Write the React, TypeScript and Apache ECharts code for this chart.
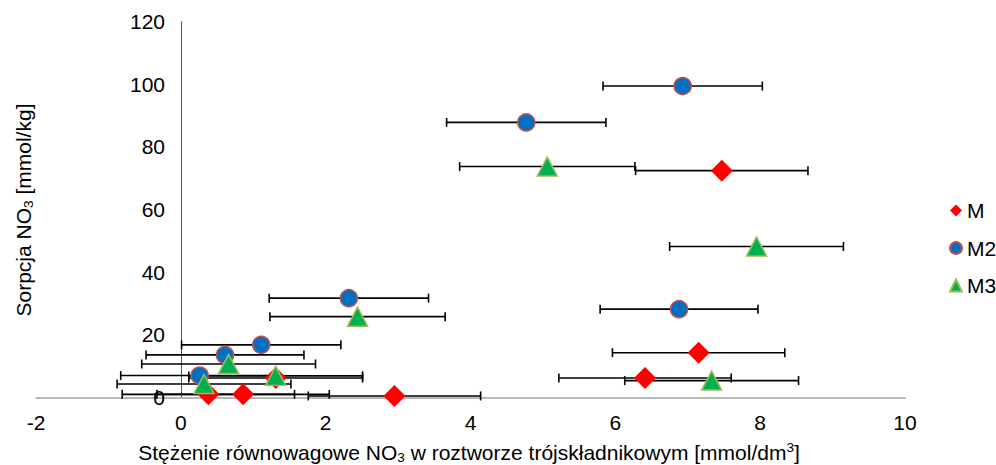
import React, { useEffect, useRef } from "react";
import * as echarts from "echarts";

const FONT = "'Liberation Sans', Arial, sans-serif";

// Series M (red diamonds): x, y, horizontal error
const mX = [7.47, 7.15, 6.41, 1.31, 0.38, 0.86, 2.95];
const mY = [72.4, 14.3, 6.2, 6.2, 1.0, 1.0, 0.5];
const mErr = [1.19, 1.19, 1.19, 1.2, 1.19, 1.19, 1.19];

// Series M2 (blue circles)
const m2X = [6.93, 4.77, 6.88, 2.32, 1.11, 0.61, 0.26];
const m2Y = [99.4, 87.8, 28.2, 31.7, 16.8, 13.6, 7.0];
const m2Err = [1.1, 1.1, 1.09, 1.1, 1.1, 1.09, 1.09];

// Series M3 (green triangles)
const m3X = [7.95, 5.06, 2.44, 0.66, 1.31, 0.32, 7.33];
const m3Y = [48.2, 73.7, 25.8, 10.7, 6.9, 4.3, 5.4];
const m3Err = [1.2, 1.21, 1.21, 1.2, 1.2, 1.2, 1.2];

const seriesNames = ["M", "M2", "M3"];

const xTitle = "Stężenie równowagowe NO{sub|3} w roztworze trójskładnikowym [mmol/dm{sup|3}]";
const yTitle = "Sorpcja NO{sub|3} [mmol/kg]";

function pts(xs: number[], ys: number[]) {
  return xs.map((x, i) => [x, ys[i]]);
}
function errPts(xs: number[], ys: number[], es: number[]) {
  return xs.map((x, i) => [x, ys[i], es[i]]);
}

const FS = 21;

const richTitle = (size: number) => ({
  sub: { fontSize: size * 0.65, fontFamily: FONT, fill: "#000", verticalAlign: "bottom", lineHeight: 13 },
  sup: { fontSize: size * 0.65, fontFamily: FONT, fill: "#000", verticalAlign: "top", lineHeight: 13 },
});

export default function App() {
  const ref = useRef<HTMLDivElement>(null);
  useEffect(() => {
    if (!ref.current) return;
    const chart = echarts.init(ref.current, null, { renderer: "svg" });

    const errRender = (params: any, api: any) => {
      const x = api.value(0);
      const y = api.value(1);
      const e = api.value(2);
      const p1 = api.coord([x - e, y]);
      const p2 = api.coord([x + e, y]);
      const h = 4.5;
      const st = { stroke: "#000", lineWidth: 1.6 };
      return {
        type: "group",
        children: [
          { type: "line", shape: { x1: p1[0], y1: p1[1], x2: p2[0], y2: p2[1] }, style: st },
          { type: "line", shape: { x1: p1[0], y1: p1[1] - h, x2: p1[0], y2: p1[1] + h }, style: st },
          { type: "line", shape: { x1: p2[0], y1: p2[1] - h, x2: p2[0], y2: p2[1] + h }, style: st },
        ],
      };
    };

    const errSeries = (data: number[][]) => ({
      type: "custom",
      renderItem: errRender,
      data,
      encode: { x: 0, y: 1 },
      clip: false,
      z: 1,
      silent: true,
    });

    const gridLeft = 36;
    const yAxisPx = 180;

    chart.setOption({
      animation: false,
      grid: { left: gridLeft, right: 91, top: 21.5, bottom: 67.5, containLabel: false, outerBoundsMode: "none" },
      xAxis: {
        type: "value",
        min: -2,
        max: 10,
        interval: 2,
        axisLine: { show: true, onZero: true, lineStyle: { color: "#A0A0A0", width: 1.5 } },
        axisTick: { show: false },
        splitLine: { show: false },
        axisLabel: { fontSize: FS, color: "#000", fontFamily: FONT, margin: 14 },
      },
      yAxis: {
        type: "value",
        min: 0,
        max: 120,
        interval: 20,
        axisLine: { show: true, onZero: true, lineStyle: { color: "#595959", width: 1 } },
        axisTick: { show: false },
        splitLine: { show: false },
        axisLabel: {
          fontSize: FS,
          color: "#000",
          fontFamily: FONT,
          margin: -(yAxisPx - 15 - gridLeft),
          align: "right",
        },
      },
      legend: {
        orient: "vertical",
        left: 944,
        top: 195,
        itemWidth: 12,
        itemHeight: 12,
        itemGap: 16.5,
        data: seriesNames,
        textStyle: { fontSize: FS, color: "#000", fontFamily: FONT, lineHeight: 21 },
      },
      graphic: [
        {
          type: "text",
          x: 469,
          y: 452,
          style: {
            text: xTitle,
            fontSize: FS,
            fontFamily: FONT,
            fill: "#000",
            align: "center",
            verticalAlign: "middle",
            lineHeight: 24,
            rich: richTitle(FS),
          },
        },
        {
          type: "text",
          x: 23,
          y: 210,
          rotation: Math.PI / 2,
          style: {
            text: yTitle,
            fontSize: FS,
            fontFamily: FONT,
            fill: "#000",
            align: "center",
            verticalAlign: "middle",
            lineHeight: 24,
            rich: richTitle(FS),
          },
        },
      ],
      series: [
        errSeries(errPts(mX, mY, mErr)),
        errSeries(errPts(m2X, m2Y, m2Err)),
        errSeries(errPts(m3X, m3Y, m3Err)),
        {
          name: "M",
          type: "scatter",
          symbol: "diamond",
          symbolSize: 22,
          data: pts(mX, mY),
          itemStyle: { color: "#FF0000", opacity: 1 },
          z: 3,
        },
        {
          name: "M2",
          type: "scatter",
          symbol: "circle",
          symbolSize: 17,
          data: pts(m2X, m2Y),
          itemStyle: { color: "#0070C0", borderColor: "#C0504D", borderWidth: 1.5, opacity: 1 },
          z: 4,
        },
        {
          name: "M3",
          type: "scatter",
          symbol: "triangle",
          symbolSize: [20, 19],
          data: pts(m3X, m3Y),
          itemStyle: { color: "#00B050", borderColor: "#9BBB59", borderWidth: 1.5, opacity: 1 },
          z: 5,
        },
      ],
    });
    return () => chart.dispose();
  }, []);
  return (
    <div
      ref={ref}
      style={{ position: "fixed", left: 0, top: 0, width: 996, height: 465, background: "#fff" }}
    />
  );
}
